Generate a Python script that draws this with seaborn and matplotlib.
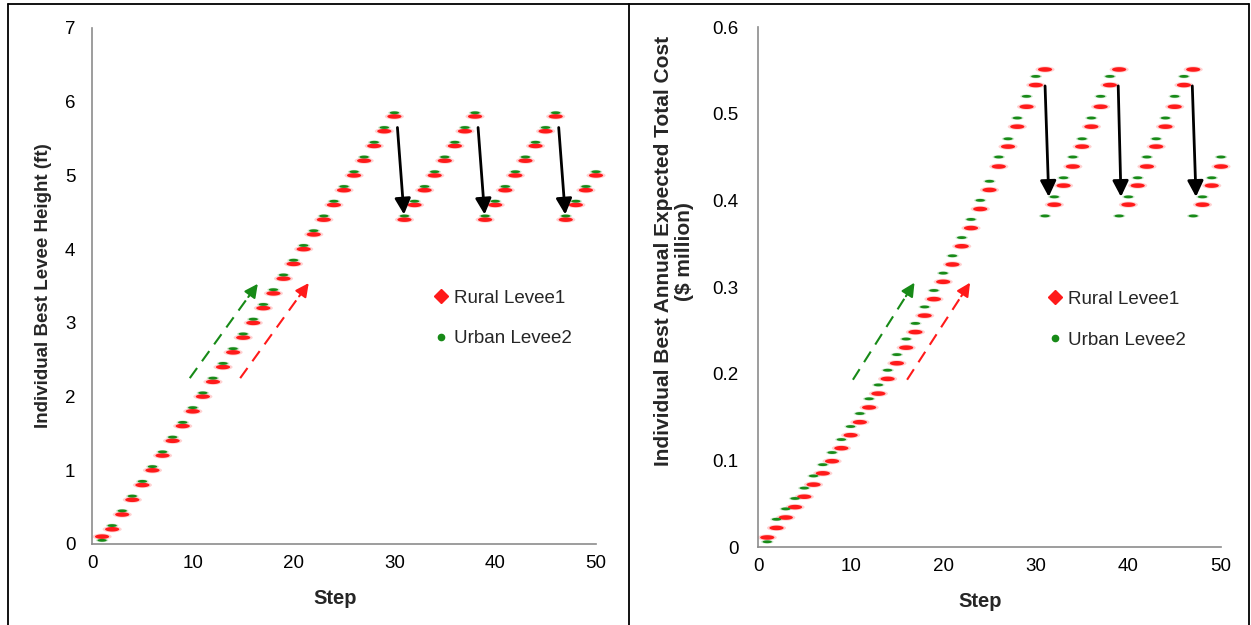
import numpy as np
import pandas as pd
import matplotlib
matplotlib.use("Agg")
import matplotlib.pyplot as plt
from matplotlib.path import Path
from matplotlib.lines import Line2D
import seaborn as sns

sns.set_theme(style="white")
plt.rcParams["font.family"] = ["Liberation Sans", "DejaVu Sans"]

# ---------------- data ----------------
steps = list(range(1, 51))

height_rural = [0.1, 0.2, 0.4, 0.6, 0.8, 1.0, 1.2, 1.4, 1.6, 1.8,
                2.0, 2.2, 2.4, 2.6, 2.8, 3.0, 3.2, 3.4, 3.6, 3.8,
                4.0, 4.2, 4.4, 4.6, 4.8, 5.0, 5.2, 5.4, 5.6, 5.8,
                4.4, 4.6, 4.8, 5.0, 5.2, 5.4, 5.6, 5.8,
                4.4, 4.6, 4.8, 5.0, 5.2, 5.4, 5.6, 5.8,
                4.4, 4.6, 4.8, 5.0]
height_urban = [0.05, 0.25, 0.45, 0.65, 0.85, 1.05, 1.25, 1.45, 1.65, 1.85,
                2.05, 2.25, 2.45, 2.65, 2.85, 3.05, 3.25, 3.45, 3.65, 3.85,
                4.05, 4.25, 4.45, 4.65, 4.85, 5.05, 5.25, 5.45, 5.65, 5.85,
                4.45, 4.65, 4.85, 5.05, 5.25, 5.45, 5.65, 5.85,
                4.45, 4.65, 4.85, 5.05, 5.25, 5.45, 5.65, 5.85,
                4.45, 4.65, 4.85, 5.05]

cost_rural = [0.011, 0.022, 0.034, 0.046, 0.058, 0.072, 0.085, 0.099, 0.114, 0.129,
              0.144, 0.161, 0.177, 0.194, 0.212, 0.230, 0.248, 0.267, 0.286, 0.306,
              0.326, 0.347, 0.368, 0.390, 0.412, 0.439, 0.462, 0.485, 0.508, 0.533,
              0.551, 0.395, 0.417, 0.439, 0.462, 0.485, 0.508, 0.533,
              0.551, 0.395, 0.417, 0.439, 0.462, 0.485, 0.508, 0.533,
              0.551, 0.395, 0.417, 0.439]
cost_urban = [0.006, 0.032, 0.044, 0.056, 0.068, 0.082, 0.095, 0.109, 0.124, 0.139,
              0.154, 0.171, 0.187, 0.204, 0.222, 0.240, 0.258, 0.277, 0.296, 0.316,
              0.336, 0.357, 0.378, 0.400, 0.422, 0.450, 0.471, 0.495, 0.520, 0.543,
              0.382, 0.404, 0.426, 0.450, 0.471, 0.495, 0.520, 0.543,
              0.382, 0.404, 0.426, 0.450, 0.471, 0.495, 0.520, 0.543,
              0.382, 0.404, 0.426, 0.450]

series_names = ["Rural Levee1", "Urban Levee2"]
series_colors = {"Rural Levee1": "#ff1a1a", "Urban Levee2": "#178a17"}
halo_colors = {"Rural Levee1": "#ffb3b3", "Urban Levee2": "#a9d4a9"}

# ---------------- annotation arrows (data coordinates) ----------------
# reset arrows: (x_start, y_start, x_end, y_end)
height_resets = [(30.3, 5.65, 30.95, 4.47), (38.3, 5.65, 38.95, 4.47), (46.3, 5.65, 46.95, 4.47)]
cost_resets = [(31.0, 0.532, 31.4, 0.404), (38.9, 0.532, 39.2, 0.404), (46.9, 0.532, 47.3, 0.404)]
# trend arrows: (x_start, y_start, x_end, y_end, colour)
height_trends = [(9.7, 2.25, 16.45, 3.53, "#178a17"), (14.7, 2.25, 21.5, 3.54, "#ff1a1a")]
cost_trends = [(10.25, 0.193, 16.9, 0.305, "#178a17"), (16.1, 0.193, 22.9, 0.305, "#ff1a1a")]


def long_frame(rural, urban):
    return pd.DataFrame({
        "step": steps + steps,
        "value": rural + urban,
        "series": [series_names[0]] * len(steps) + [series_names[1]] * len(steps),
    })


# flattened markers for the series points
theta = np.linspace(0, 2 * np.pi, 40)
red_bar = Path(np.column_stack([np.cos(theta), 0.32 * np.sin(theta)]), closed=True)
green_bar = Path(np.column_stack([np.cos(theta), 0.30 * np.sin(theta)]), closed=True)
series_markers = {"Rural Levee1": red_bar, "Urban Levee2": green_bar}
series_sizes = {"Rural Levee1": 105, "Urban Levee2": 45}
halo_sizes = {"Rural Levee1": 190, "Urban Levee2": 80}

W, H = 1251, 625
fig = plt.figure(figsize=(W / 100, H / 100), dpi=100)
fs = 13.5


def style_axes(ax, ymax, yticks, yticklabels, ypad, xlabel_x):
    ax.set_xlim(0, 50)
    ax.set_ylim(0, ymax)
    ax.set_xticks(range(0, 51, 10))
    ax.set_yticks(yticks)
    ax.set_yticklabels(yticklabels)
    ax.tick_params(axis="both", length=0, labelsize=fs, colors="black")
    ax.tick_params(axis="x", pad=8)
    ax.tick_params(axis="y", pad=ypad)
    for side in ("top", "right"):
        ax.spines[side].set_visible(False)
    for side in ("left", "bottom"):
        ax.spines[side].set_color("#8c8c8c")
        ax.spines[side].set_linewidth(1.2)
    ax.set_xlabel("Step", fontsize=14.5, fontweight="bold", labelpad=12)
    ax.xaxis.label.set_x(xlabel_x)


def draw_panel(ax, rural, urban, resets, trends, legend_x):
    df = long_frame(rural, urban)
    # soft edge under each point
    sns.scatterplot(data=df, x="step", y="value",
                    hue="series", style="series", size="series",
                    palette=halo_colors, markers=series_markers, sizes=halo_sizes,
                    linewidth=0, legend=False, ax=ax, zorder=2, alpha=0.6, clip_on=False)
    sns.scatterplot(data=df, x="step", y="value",
                    hue="series", style="series", size="series",
                    palette=series_colors, markers=series_markers, sizes=series_sizes,
                    linewidth=0, legend=False, ax=ax, zorder=3, clip_on=False)
    for x0, y0, x1, y1 in resets:
        ax.annotate("", xy=(x1, y1), xytext=(x0, y0),
                    arrowprops=dict(arrowstyle="-|>", color="black", lw=2,
                                    mutation_scale=24, shrinkA=0, shrinkB=0))
    for x0, y0, x1, y1, c in trends:
        f = 0.86
        xm, ym = x0 + f * (x1 - x0), y0 + f * (y1 - y0)
        ax.plot([x0, xm], [y0, ym], color=c, lw=1.5, ls=(0, (6, 4)))
        ax.annotate("", xy=(x1, y1), xytext=(xm, ym),
                    arrowprops=dict(arrowstyle="-|>", color=c, lw=1.5,
                                    mutation_scale=20, shrinkA=0, shrinkB=0))
    handles = [Line2D([], [], ls="none", marker="D", markersize=7, color=series_colors[series_names[0]]),
               Line2D([], [], ls="none", marker="o", markersize=4.5, color=series_colors[series_names[1]])]
    ax.legend(handles, series_names, loc="center left", bbox_to_anchor=(legend_x, 0.437),
              frameon=False, fontsize=fs, handletextpad=0.2, labelspacing=1.25,
              handlelength=1.0, borderaxespad=0)


ax1 = fig.add_axes([92 / W, 1 - 544 / H, (596 - 92) / W, (544 - 28) / H])
draw_panel(ax1, height_rural, height_urban, height_resets, height_trends, 0.658)
style_axes(ax1, 7, range(0, 8), [str(v) for v in range(0, 8)], 12, 0.482)
ax1.set_ylabel("Individual Best Levee Height (ft)", fontsize=13.5, fontweight="bold", labelpad=9)

ax2 = fig.add_axes([758 / W, 1 - 547 / H, (1221 - 758) / W, (547 - 27) / H])
draw_panel(ax2, cost_rural, cost_urban, cost_resets, cost_trends, 0.605)
cost_ticks = [0, 0.1, 0.2, 0.3, 0.4, 0.5, 0.6]
style_axes(ax2, 0.6, cost_ticks, ["0"] + [f"{v:.1f}" for v in cost_ticks[1:]], 14, 0.479)
ax2.set_ylabel("Individual Best Annual Expected Total Cost\n($ million)", fontsize=15,
               fontweight="bold", labelpad=13, linespacing=1.15)
ax2.yaxis.label.set_y(0.569)

# panel frames
frame = dict(color="black", lw=1.3, transform=fig.transFigure)
fig.add_artist(Line2D([8 / W, 1249 / W], [1 - 4 / H, 1 - 4 / H], **frame))
for px in (8, 629, 1249):
    fig.add_artist(Line2D([px / W, px / W], [0, 1 - 4 / H], **frame))

fig.savefig("out.png", dpi=100, facecolor="white")
